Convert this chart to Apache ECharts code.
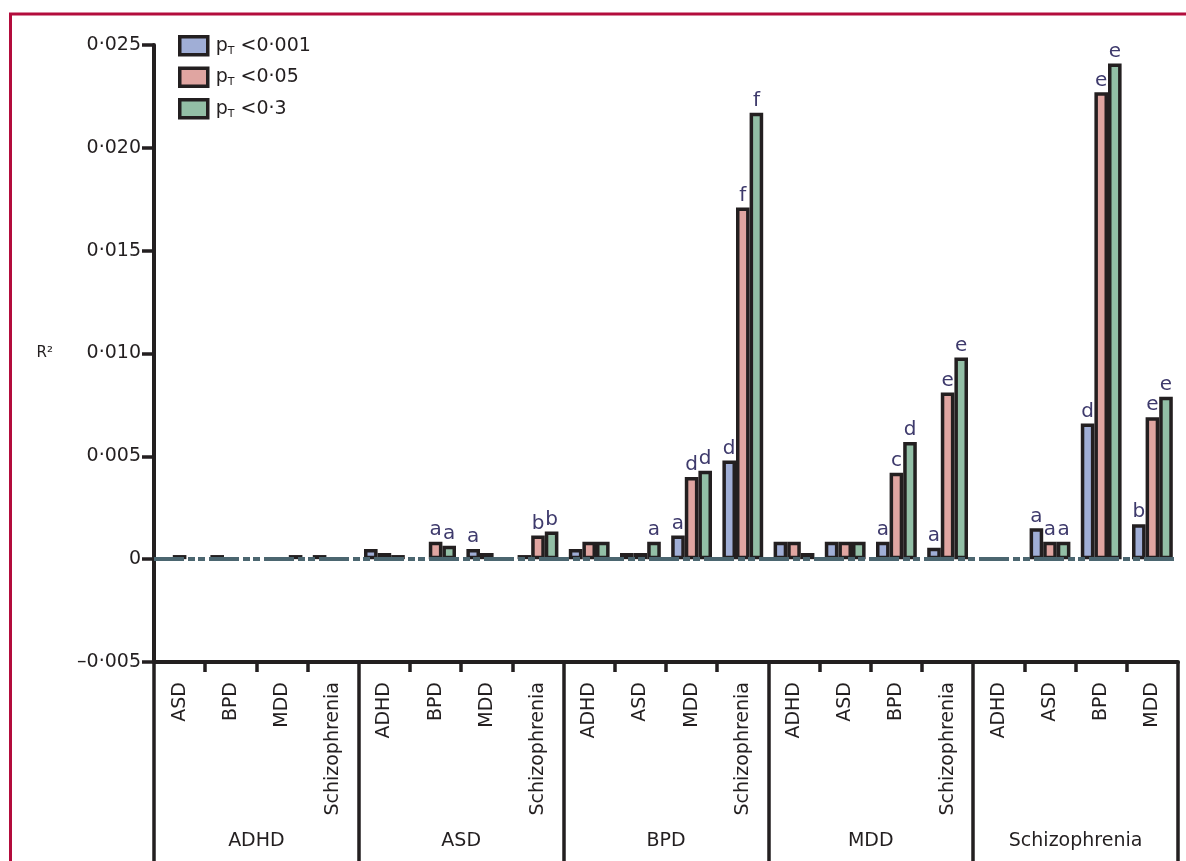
<!DOCTYPE html>
<html><head><meta charset="utf-8">
<script src="https://cdn.jsdelivr.net/npm/echarts@6/dist/echarts.min.js"></script>
<style>html,body{margin:0;padding:0;background:#fff}#chart{width:1186px;height:861px}</style>
</head><body><div id="chart"></div>
<script>
// ---- data ----
const groups = ['ADHD', 'ASD', 'BPD', 'MDD', 'Schizophrenia'];
const subCategories = [
  'ASD', 'BPD', 'MDD', 'Schizophrenia',
  'ADHD', 'BPD', 'MDD', 'Schizophrenia',
  'ADHD', 'ASD', 'MDD', 'Schizophrenia',
  'ADHD', 'ASD', 'BPD', 'Schizophrenia',
  'ADHD', 'ASD', 'BPD', 'MDD'
];
const seriesNames = ['pT <0·001', 'pT <0·05', 'pT <0·3'];
const thresholds = ['<0·001', '<0·05', '<0·3'];
const r2Strict = [0, 0.0002, 0, 0.0002, 0.0005, 0, 0.0005, 0.0002, 0.0005, 0.0003, 0.00115, 0.0048, 0.00085, 0.00085, 0.00085, 0.00055, 0, 0.0015, 0.0066, 0.0017];
const r2Mid    = [0.0002, 0, 0, 0, 0.0003, 0.00085, 0.0003, 0.00115, 0.00085, 0.0003, 0.0040, 0.0171, 0.00085, 0.00085, 0.0042, 0.0081, 0, 0.00085, 0.0227, 0.0069];
const r2Loose  = [0, 0, 0.0002, 0, 0.0002, 0.00065, 0, 0.00135, 0.00085, 0.00085, 0.0043, 0.0217, 0.0003, 0.00085, 0.0057, 0.0098, 0, 0.00085, 0.0241, 0.0079];
const lettersStrict = ['', '', '', '', '', '', 'a', '', '', '', 'a', 'd', '', '', 'a', 'a', '', 'a', 'd', 'b'];
const lettersMid    = ['', '', '', '', '', 'a', '', 'b', '', '', 'd', 'f', '', '', 'c', 'e', '', 'a', 'e', 'e'];
const lettersLoose  = ['', '', '', '', '', 'a', '', 'b', '', 'a', 'd', 'f', '', '', 'd', 'e', '', 'a', 'e', 'e'];
const yTickLabels = ['–0·005', '0', '0·005', '0·010', '0·015', '0·020', '0·025'];

// ---- styles ----
const FONT = 'DejaVu Sans';
const INK = '#231F20';
const colors = ['#A0AED6', '#E0A5A1', '#93BFA6'];

const chart = echarts.init(document.getElementById('chart'), null, { renderer: 'canvas' });

const values = [r2Strict, r2Mid, r2Loose];
const letters = [lettersStrict, lettersMid, lettersLoose];

const series = values.map((vals, si) => {
  const s = {
    name: seriesNames[si],
    type: 'bar',
    xAxisIndex: 0,
    barWidth: 13.6,
    barGap: '0%',
    data: vals.map(v => (v === 0 ? '-' : v)),
    itemStyle: { color: colors[si], borderColor: INK, borderWidth: 3.5 },
    label: {
      show: true,
      position: 'top',
      distance: 2,
      fontFamily: FONT,
      fontSize: 20,
      color: '#3E3A6C',
      formatter: p => letters[si][p.dataIndex]
    },
    emphasis: { disabled: true },
    animation: false
  };
  if (si === 2) {
    s.markLine = {
      silent: true,
      symbol: 'none',
      label: { show: false },
      z: 10,
      lineStyle: { color: '#4B6670', width: 4, type: [30, 4, 7, 3, 7, 4], opacity: 1 },
      data: [{ yAxis: 0 }],
      animation: false
    };
  }
  return s;
});

const option = {
  backgroundColor: '#ffffff',
  animation: false,
  textStyle: { fontFamily: FONT },
  graphic: [
    { type: 'line', shape: { x1: 9, y1: 14, x2: 1186, y2: 14 }, style: { stroke: '#B30C3C', lineWidth: 3 } },
    { type: 'line', shape: { x1: 10.5, y1: 13, x2: 10.5, y2: 861 }, style: { stroke: '#B30C3C', lineWidth: 3 } }
  ],
  legend: {
    orient: 'vertical',
    left: 173,
    top: 30,
    itemWidth: 28,
    itemHeight: 18,
    itemGap: 10,
    icon: 'rect',
    itemStyle: { borderColor: INK, borderWidth: 3.5 },
    selectedMode: false,
    data: seriesNames,
    formatter: name => {
      const i = seriesNames.indexOf(name);
      return '{p|p}{s|T}{t| ' + thresholds[i] + '}';
    },
    textStyle: {
      color: INK,
      fontFamily: FONT,
      rich: {
        p: { fontSize: 19, lineHeight: 21, fontFamily: FONT, color: INK, padding: [0, 0, 0, 3] },
        s: { fontSize: 11, lineHeight: 11, verticalAlign: 'bottom', fontFamily: FONT, color: INK },
        t: { fontSize: 19, lineHeight: 21, fontFamily: FONT, color: INK }
      }
    }
  },
  grid: { left: 154, right: 8, top: 45, bottom: 199, containLabel: false },
  xAxis: [
    {
      type: 'category',
      position: 'bottom',
      data: subCategories.map((c, i) => groups[Math.floor(i / 4)] + ' / ' + c),
      axisLine: { show: true, onZero: false, lineStyle: { color: INK, width: 4 } },
      axisTick: { show: true, interval: 0, length: 10, lineStyle: { color: INK, width: 3.5 } },
      axisLabel: {
        interval: 0,
        rotate: 90,
        margin: 20,
        fontFamily: FONT,
        fontSize: 19,
        color: INK,
        formatter: v => v.split(' / ')[1]
      },
      splitLine: { show: false }
    },
    {
      type: 'category',
      position: 'bottom',
      data: groups,
      axisLine: { show: false, onZero: false },
      axisTick: { show: true, interval: 0, length: 205, lineStyle: { color: INK, width: 3.5 } },
      axisLabel: { interval: 0, margin: 170, fontFamily: FONT, fontSize: 19, color: INK },
      splitLine: { show: false }
    }
  ],
  yAxis: {
    type: 'value',
    min: -0.005,
    max: 0.025,
    interval: 0.005,
    name: 'R²',
    nameLocation: 'middle',
    nameRotate: 0,
    nameGap: 101,
    nameTextStyle: { fontFamily: FONT, fontSize: 15, color: INK },
    axisLine: { show: true, onZero: false, lineStyle: { color: INK, width: 4 } },
    axisTick: { show: true, length: 12, lineStyle: { color: INK, width: 3.5 } },
    axisLabel: {
      margin: 13,
      fontFamily: FONT,
      fontSize: 19,
      color: INK,
      formatter: (v, idx) => yTickLabels[idx]
    },
    splitLine: { show: false }
  },
  series: series
};

chart.setOption(option);
</script>
</body></html>
